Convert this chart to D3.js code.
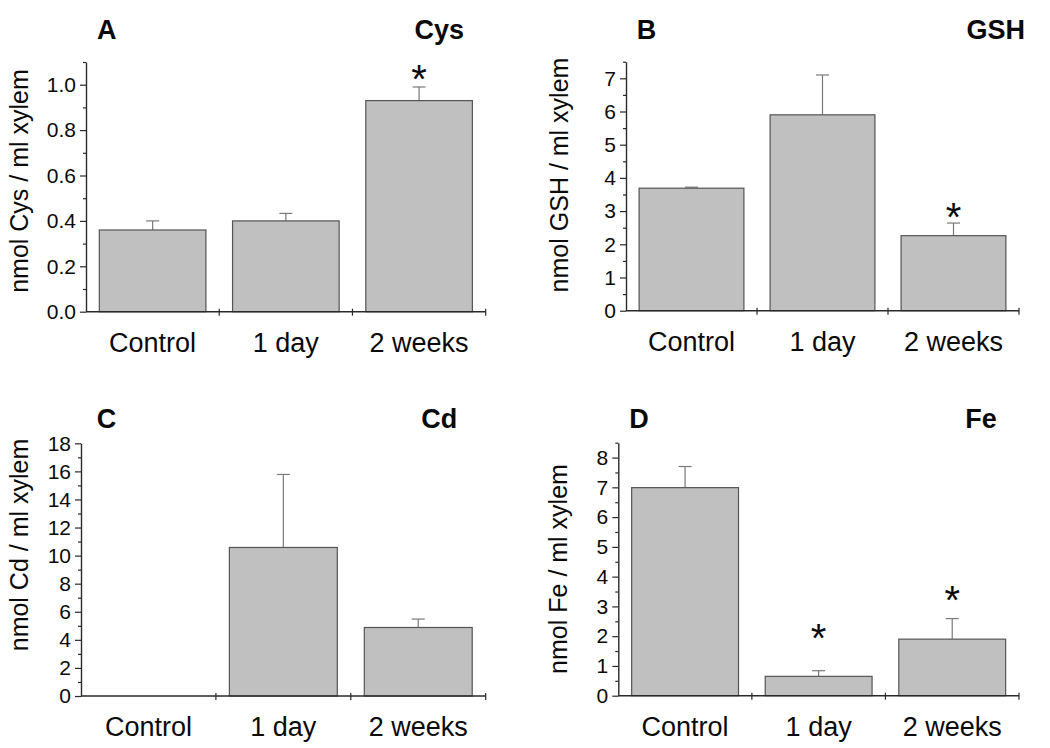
<!DOCTYPE html>
<html>
<head>
<meta charset="utf-8">
<script src="https://cdn.jsdelivr.net/npm/d3@7"></script>
<style>
  html, body { margin: 0; padding: 0; background: #fff; }
  svg { display: block; font-family: "Liberation Sans", Arial, sans-serif; }
</style>
</head>
<body>
<svg id="chart" width="1050" height="748"></svg>
<script>
// ---------------- data ----------------
const categories = ["Control", "1 day", "2 weeks"];

const cysValues = [0.36, 0.40, 0.93];
const cysErrors = [0.04, 0.033, 0.06];
const cysStars  = [null, null, 1.064];
const cysTicks  = [0, 0.2, 0.4, 0.6, 0.8, 1.0];

const gshValues = [3.69, 5.9, 2.26];
const gshErrors = [0.03, 1.2, 0.38];
const gshStars  = [null, null, 3.09];
const gshTicks  = [0, 1, 2, 3, 4, 5, 6, 7];

const cdValues = [0, 10.58, 4.88];
const cdErrors = [0, 5.2, 0.6];
const cdStars  = [null, null, null];
const cdTicks  = [0, 2, 4, 6, 8, 10, 12, 14, 16, 18];

const feValues = [6.99, 0.65, 1.9];
const feErrors = [0.71, 0.19, 0.69];
const feStars  = [null, 2.24, 3.5];
const feTicks  = [0, 1, 2, 3, 4, 5, 6, 7, 8];

const panelLetters = ["A", "B", "C", "D"];
const panelNames   = ["Cys", "GSH", "Cd", "Fe"];
const yTitles = ["nmol Cys / ml xylem", "nmol GSH / ml xylem", "nmol Cd / ml xylem", "nmol Fe / ml xylem"];

// ---------------- layout ----------------
const panels = [
  { values: cysValues, errors: cysErrors, stars: cysStars, ticks: cysTicks, yMax: 1.1, minorStep: 0.1, fmt: d3.format(".1f"),
    left: 86, right: 485.7, top: 62, bottom: 311.7, titleX: 28, titleY: 181, letterX: 97, nameRight: 464, labelY: 39 },
  { values: gshValues, errors: gshErrors, stars: gshStars, ticks: gshTicks, yMax: 7.5, minorStep: 0.5, fmt: d3.format("d"),
    left: 626, right: 1019, top: 61.7, bottom: 310.7, titleX: 568, titleY: 175, letterX: 636.7, nameRight: 1025, labelY: 39 },
  { values: cdValues, errors: cdErrors, stars: cdStars, ticks: cdTicks, yMax: 18, minorStep: 1, fmt: d3.format("d"),
    left: 81, right: 485.7, top: 443.3, bottom: 696, titleX: 28, titleY: 545, letterX: 96.7, nameRight: 457.3, labelY: 428.3 },
  { values: feValues, errors: feErrors, stars: feStars, ticks: feTicks, yMax: 8.5, minorStep: 0.5, fmt: d3.format("d"),
    left: 618.3, right: 1019, top: 442.7, bottom: 695.7, titleX: 567, titleY: 569, letterX: 629.3, nameRight: 996.7, labelY: 428.3 }
];

const svg = d3.select("#chart");
const axisColor = "#2a2a2a";
const textColor = "#0a0a0a";

panels.forEach((p, i) => {
  const g = svg.append("g");
  const x = d3.scaleBand().domain(categories).range([p.left, p.right]).paddingInner(0.2).paddingOuter(0.1);
  const y = d3.scaleLinear().domain([0, p.yMax]).range([p.bottom, p.top]);
  const step = x.step();

  const rows = categories.map((c, k) => ({ cat: c, v: p.values[k], e: p.errors[k], s: p.stars[k] }));

  // error bars (upper half only)
  const eb = g.append("g").attr("stroke", "#7a7a7a").attr("stroke-width", 1.2).attr("fill", "none");
  rows.filter(r => r.v > 0).forEach(r => {
    const cx = x(r.cat) + x.bandwidth() / 2;
    eb.append("line").attr("x1", cx).attr("x2", cx).attr("y1", y(r.v)).attr("y2", y(r.v + r.e));
    eb.append("line").attr("x1", cx - 6.5).attr("x2", cx + 6.5).attr("y1", y(r.v + r.e)).attr("y2", y(r.v + r.e));
  });

  // bars
  g.append("g").selectAll("rect").data(rows.filter(r => r.v > 0)).join("rect")
    .attr("x", r => x(r.cat))
    .attr("y", r => y(r.v))
    .attr("width", x.bandwidth())
    .attr("height", r => y(0) - y(r.v))
    .attr("fill", "#c0c0c0")
    .attr("stroke", "#555")
    .attr("stroke-width", 1.2);

  // stars
  g.append("g").selectAll("text").data(rows.filter(r => r.s != null)).join("text")
    .attr("x", r => x(r.cat) + x.bandwidth() / 2)
    .attr("y", r => y(r.s))
    .attr("dy", "0.57em")
    .attr("text-anchor", "middle")
    .attr("font-size", 40)
    .attr("fill", textColor)
    .text("*");

  // y axis: minor ticks
  const minor = d3.range(0, p.yMax + 1e-9, p.minorStep).filter(v => !p.ticks.some(t => Math.abs(t - v) < 1e-9));
  g.append("g").attr("transform", `translate(${p.left},0)`)
    .call(d3.axisLeft(y).tickValues(minor).tickSize(3).tickFormat("").tickSizeOuter(0))
    .call(a => a.select(".domain").remove())
    .call(a => a.selectAll("line").attr("stroke", axisColor).attr("stroke-width", 1.2));

  // y axis: major ticks
  g.append("g").attr("transform", `translate(${p.left},0)`)
    .call(d3.axisLeft(y).tickValues(p.ticks).tickSize(6).tickPadding(4).tickFormat(p.fmt).tickSizeOuter(0))
    .call(a => a.select(".domain").attr("stroke", axisColor).attr("stroke-width", 1.4))
    .call(a => a.selectAll("line").attr("stroke", axisColor).attr("stroke-width", 1.2))
    .call(a => a.selectAll("text").attr("font-size", 21).attr("fill", textColor)
      .attr("font-family", "Liberation Sans, Arial, sans-serif"));

  // x axis line
  g.append("line").attr("x1", p.left).attr("x2", p.right).attr("y1", y(0)).attr("y2", y(0))
    .attr("stroke", axisColor).attr("stroke-width", 1.4);

  // x axis boundary ticks (crossing the axis)
  const bounds = categories.map(c => x(c) - step * x.paddingInner() / 2).concat([p.right]);
  g.append("g").selectAll("line").data(bounds.slice(1)).join("line")
    .attr("x1", d => d).attr("x2", d => d)
    .attr("y1", y(0) - 3).attr("y2", y(0) + 4)
    .attr("stroke", axisColor).attr("stroke-width", 1.2);

  // x category labels
  g.append("g").selectAll("text").data(categories).join("text")
    .attr("x", c => x(c) + x.bandwidth() / 2)
    .attr("y", y(0) + 40)
    .attr("text-anchor", "middle")
    .attr("font-size", 27)
    .attr("fill", textColor)
    .text(c => c);

  // y title
  g.append("text")
    .attr("transform", `translate(${p.titleX},${p.titleY}) rotate(-90)`)
    .attr("text-anchor", "middle")
    .attr("font-size", 25)
    .attr("fill", textColor)
    .text(yTitles[i]);

  // panel letter and name
  g.append("text").attr("x", p.letterX).attr("y", p.labelY)
    .attr("font-size", 27).attr("font-weight", "bold").attr("fill", textColor)
    .text(panelLetters[i]);
  g.append("text").attr("x", p.nameRight).attr("y", p.labelY)
    .attr("text-anchor", "end")
    .attr("font-size", 27).attr("font-weight", "bold").attr("fill", textColor)
    .text(panelNames[i]);
});
</script>
</body>
</html>
